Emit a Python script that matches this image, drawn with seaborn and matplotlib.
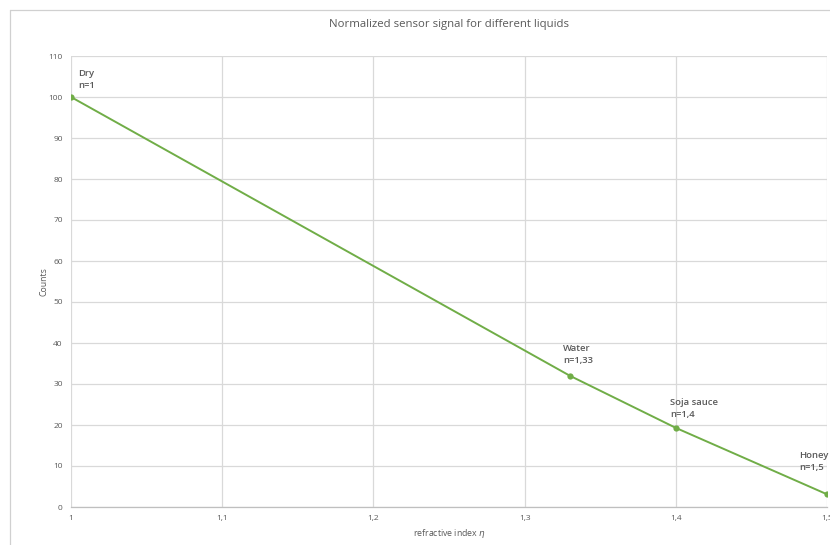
import matplotlib
matplotlib.use("Agg")
import matplotlib.pyplot as plt
from matplotlib import font_manager
from matplotlib.ticker import MultipleLocator
from matplotlib.lines import Line2D
import seaborn as sns
import pandas as pd

# ---- data ----
liquids = ["Dry", "Water", "Soja sauce", "Honey"]
refractive_index = [1.0, 1.33, 1.4, 1.5]
counts = [100, 32, 19.3, 3.1]
index_labels = ["n=1", "n=1,33", "n=1,4", "n=1,5"]
y_ticks = [0, 10, 20, 30, 40, 50, 60, 70, 80, 90, 100, 110]
x_ticks = [1.0, 1.1, 1.2, 1.3, 1.4, 1.5]
x_tick_labels = ["1", "1,1", "1,2", "1,3", "1,4", "1,5"]

# label offsets in pixels (style/position only)
label_offsets = [(7, 17.5), (-7, 21.5), (-6, 19.5), (-28, 33)]

df = pd.DataFrame({"liquid": liquids, "n": refractive_index, "counts": counts})

sns.set_theme(style="white")
available = {f.name for f in font_manager.fontManager.ttflist}
fam = "Liberation Sans Narrow" if "Liberation Sans Narrow" in available else "Open Sans"
plt.rcParams["font.family"] = [fam, "DejaVu Sans"]

GRAY_TXT = "#595959"
GRID = "#D9D9D9"
GREEN = "#70AD47"

fig = plt.figure(figsize=(8.3, 5.45), dpi=100)
ax = fig.add_axes([71 / 830, 1 - 507 / 545, (827 - 71) / 830, (507 - 56) / 545])

sns.lineplot(data=df, x="n", y="counts", ax=ax, color=GREEN, linewidth=1.4,
             marker="o", markersize=4.5, markeredgewidth=0, markerfacecolor=GREEN)

ax.set_xlim(1.0, 1.5)
ax.set_ylim(0, 110)
ax.set_yticks(y_ticks)
ax.set_xticks(x_ticks)
ax.set_xticklabels(x_tick_labels)
ax.xaxis.set_minor_locator(MultipleLocator(0.02))
ax.grid(True, which="major", color=GRID, linewidth=0.9)
ax.set_axisbelow(True)

for s in ["top", "right", "left"]:
    ax.spines[s].set_visible(False)
ax.spines["bottom"].set_color("#BFBFBF")
ax.spines["bottom"].set_linewidth(0.9)

ax.tick_params(axis="both", which="major", length=0, labelsize=6.0, labelcolor=GRAY_TXT, pad=5)
ax.tick_params(axis="x", which="major", pad=6)
ax.tick_params(axis="x", which="minor", length=2.5, direction="in", color="#BFBFBF", width=0.8)
ax.tick_params(axis="y", which="major", pad=6)

ax.set_xlabel("refractive index $\\eta$", fontsize=6.3, color=GRAY_TXT, labelpad=3)
ax.set_ylabel("Counts", fontsize=6.3, color=GRAY_TXT, labelpad=0)

fig.text((71 + 827) / 2 / 830, 1 - 25 / 545, "Normalized sensor signal for different liquids",
         ha="center", va="center", fontsize=8.2, color=GRAY_TXT)

for name, lab, xv, yv, (dx, dy) in zip(liquids, index_labels, refractive_index, counts, label_offsets):
    ax.annotate(f"{name}\n{lab}", xy=(xv, yv), xytext=(dx, dy), textcoords="offset pixels",
                ha="left", va="center", fontsize=6.8, color=GRAY_TXT, linespacing=1.5,
                fontweight="semibold", annotation_clip=False)

# chart area border (top & left)
fig.add_artist(Line2D([9.5 / 830, 9.5 / 830], [0, 1 - 9.5 / 545], transform=fig.transFigure,
                      color="#D0D0D0", linewidth=0.9))
fig.add_artist(Line2D([9.5 / 830, 1], [1 - 9.5 / 545, 1 - 9.5 / 545], transform=fig.transFigure,
                      color="#D0D0D0", linewidth=0.9))

fig.savefig("out.png", dpi=100)
